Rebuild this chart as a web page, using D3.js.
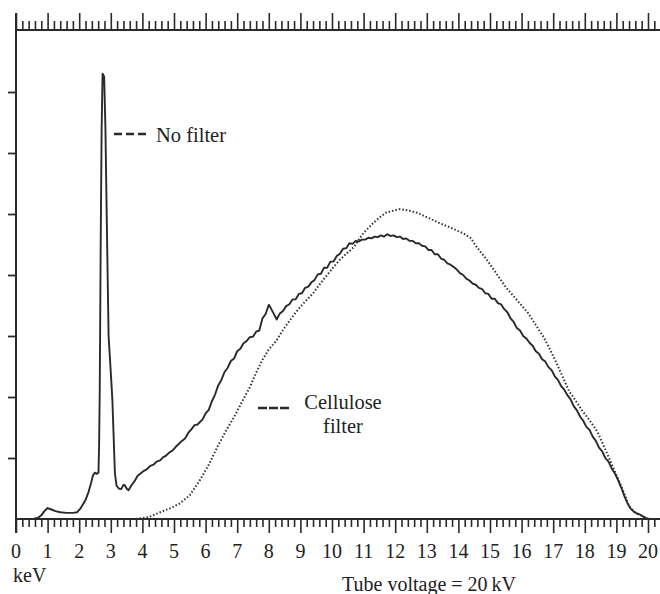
<!DOCTYPE html>
<html>
<head>
<meta charset="utf-8">
<script src="https://cdn.jsdelivr.net/npm/d3@7"></script>
<style>
  html, body { margin: 0; padding: 0; background: #fff; }
  svg { display: block; }
  text { font-family: "Liberation Serif", "DejaVu Serif", serif; fill: #222; }
</style>
</head>
<body>
<svg id="chart" width="660" height="594"></svg>
<script>
// ---- data ----
const axisTickLabels = ["0","1","2","3","4","5","6","7","8","9","10","11","12","13","14","15","16","17","18","19","20"];
const yTickValues = [1, 2, 3, 4, 5, 6, 7];

// No filter spectrum: [energy keV, relative intensity]
const noFilterSpectrum = [[0,0],[0.55,0],[0.7,0.02],[0.8,0.06],[0.9,0.13],[1.0,0.18],[1.1,0.16],[1.25,0.13],[1.4,0.11],[1.6,0.10],[1.8,0.10],[1.93,0.11],[2.05,0.18],[2.2,0.31],[2.3,0.45],[2.38,0.60],[2.44,0.72],[2.5,0.76],[2.56,0.74],[2.61,0.76],[2.63,1.2],[2.65,2.1],[2.68,4.5],[2.71,6.4],[2.74,7.3],[2.79,7.25],[2.83,6.4],[2.87,5.0],[2.93,3.0],[3.0,2.4],[3.05,1.95],[3.1,1.2],[3.13,0.75],[3.18,0.55],[3.25,0.50],[3.33,0.49],[3.4,0.56],[3.45,0.55],[3.5,0.50],[3.56,0.47],[3.65,0.55],[3.75,0.62],[3.85,0.71],[3.95,0.75],[4.05,0.79],[4.15,0.82],[4.25,0.87],[4.35,0.89],[4.45,0.94],[4.56,0.96],[4.65,1.01],[4.75,1.04],[4.85,1.09],[4.95,1.12],[5.05,1.18],[5.15,1.23],[5.25,1.28],[5.35,1.32],[5.45,1.41],[5.55,1.47],[5.65,1.54],[5.75,1.55],[5.82,1.59],[5.9,1.63],[6.0,1.73],[6.1,1.79],[6.2,1.93],[6.3,2.04],[6.4,2.19],[6.5,2.28],[6.6,2.41],[6.7,2.48],[6.8,2.59],[6.9,2.63],[7.0,2.75],[7.1,2.79],[7.2,2.88],[7.3,2.92],[7.4,2.98],[7.5,2.99],[7.6,3.07],[7.7,3.09],[7.8,3.29],[7.9,3.36],[8.0,3.51],[8.05,3.47],[8.15,3.37],[8.25,3.27],[8.35,3.37],[8.45,3.41],[8.55,3.49],[8.65,3.52],[8.75,3.60],[8.85,3.60],[8.95,3.69],[9.05,3.70],[9.15,3.79],[9.25,3.81],[9.35,3.88],[9.45,3.92],[9.55,4.01],[9.65,4.02],[9.75,4.12],[9.85,4.12],[9.95,4.22],[10.05,4.22],[10.15,4.31],[10.25,4.35],[10.35,4.43],[10.45,4.44],[10.55,4.52],[10.65,4.51],[10.75,4.56],[10.85,4.55],[10.95,4.58],[11.05,4.58],[11.15,4.61],[11.25,4.60],[11.35,4.63],[11.45,4.62],[11.55,4.65],[11.65,4.63],[11.75,4.67],[11.85,4.64],[11.95,4.65],[12.05,4.62],[12.15,4.63],[12.25,4.59],[12.35,4.60],[12.45,4.56],[12.55,4.56],[12.65,4.52],[12.75,4.52],[12.85,4.48],[12.95,4.47],[13.05,4.41],[13.15,4.41],[13.25,4.34],[13.35,4.34],[13.45,4.27],[13.55,4.25],[13.65,4.19],[13.75,4.17],[13.85,4.13],[13.95,4.09],[14.05,4.03],[14.15,4.00],[14.25,3.94],[14.35,3.91],[14.45,3.86],[14.55,3.84],[14.65,3.79],[14.75,3.77],[14.85,3.70],[14.95,3.69],[15.05,3.61],[15.15,3.61],[15.25,3.54],[15.35,3.52],[15.45,3.44],[15.55,3.39],[15.65,3.29],[15.75,3.23],[15.85,3.13],[15.95,3.09],[16.05,3.00],[16.15,2.96],[16.25,2.89],[16.35,2.84],[16.45,2.75],[16.55,2.71],[16.65,2.62],[16.75,2.58],[16.85,2.49],[16.95,2.44],[17.05,2.34],[17.15,2.28],[17.25,2.18],[17.35,2.12],[17.45,2.03],[17.55,1.96],[17.65,1.85],[17.75,1.78],[17.85,1.68],[17.95,1.61],[18.05,1.51],[18.15,1.46],[18.25,1.35],[18.35,1.28],[18.45,1.17],[18.55,1.11],[18.65,1.00],[18.75,0.94],[18.85,0.83],[18.95,0.75],[19.05,0.64],[19.15,0.52],[19.25,0.38],[19.35,0.26],[19.45,0.17],[19.55,0.12],[19.65,0.09],[19.75,0.07],[19.85,0.04],[19.95,0.01],[20.05,0],[20.38,0]];

// Cellulose filter spectrum: [energy keV, relative intensity]
const celluloseSpectrum = [[3.8,0],[4.2,0.03],[4.56,0.11],[4.9,0.18],[5.2,0.26],[5.5,0.39],[5.8,0.62],[6.1,0.89],[6.4,1.21],[6.65,1.45],[6.9,1.67],[7.15,1.92],[7.4,2.16],[7.6,2.40],[7.8,2.61],[8.0,2.78],[8.25,2.93],[8.4,3.06],[8.6,3.21],[8.8,3.35],[9.0,3.48],[9.2,3.59],[9.4,3.70],[9.6,3.84],[9.8,3.97],[10.0,4.10],[10.25,4.25],[10.5,4.37],[10.7,4.46],[10.85,4.58],[11.0,4.69],[11.15,4.77],[11.3,4.85],[11.5,4.94],[11.7,5.02],[11.9,5.05],[12.15,5.08],[12.4,5.06],[12.7,5.02],[12.95,4.96],[13.2,4.90],[13.45,4.84],[13.7,4.79],[13.95,4.73],[14.2,4.67],[14.4,4.60],[14.55,4.48],[14.7,4.38],[14.9,4.25],[15.1,4.10],[15.3,3.95],[15.5,3.80],[15.7,3.68],[15.9,3.56],[16.2,3.38],[16.45,3.18],[16.7,2.98],[16.9,2.78],[17.1,2.56],[17.3,2.33],[17.5,2.10],[17.7,1.95],[17.9,1.79],[18.15,1.62],[18.4,1.43],[18.65,1.14],[18.9,0.84],[19.05,0.66],[19.2,0.48],[19.4,0.21],[19.6,0.10],[19.75,0.07],[20.0,0]];

const seriesLabels = ["No filter", "Cellulose", "filter"];
const xUnitLabel = "keV";
const caption = "Tube voltage = 20\u2009kV";

// ---- drawing ----
const svg = d3.select("#chart");
const x = d3.scaleLinear().domain([0, 20.38]).range([16, 660]);
const y = d3.scaleLinear().domain([0, 8]).range([519, 31]);
const ink = "#2a2a2a";

const minorTicks = d3.range(0, 102).map(i => +(i * 0.2).toFixed(1)).filter(v => v <= 20.3);
const isMajor = v => Math.abs(v - Math.round(v)) < 1e-6;

// bottom axis
const gb = svg.append("g").attr("transform", "translate(0,519)")
  .call(d3.axisBottom(x).tickValues(minorTicks).tickSizeOuter(0).tickFormat(""));
gb.select(".domain").remove();
gb.selectAll(".tick line").attr("y2", d => isMajor(d) ? 14 : 8).attr("stroke", ink).attr("stroke-width", 1.6);
gb.append("line").attr("x1", x(0)).attr("x2", 660).attr("y1", 0).attr("y2", 0).attr("stroke", ink).attr("stroke-width", 2);

// bottom tick labels
svg.append("g").selectAll("text").data(axisTickLabels).join("text")
  .attr("x", d => x(+d)).attr("y", 558).attr("text-anchor", "middle")
  .attr("font-size", 20).text(d => d);

// top axis
const gt = svg.append("g").attr("transform", "translate(0,30)")
  .call(d3.axisTop(x).tickValues(minorTicks).tickSizeOuter(0).tickFormat(""));
gt.select(".domain").remove();
gt.selectAll(".tick line").attr("y2", d => isMajor(d) ? -17 : -9).attr("stroke", ink).attr("stroke-width", 1.6);
gt.append("line").attr("x1", x(0)).attr("x2", 660).attr("y1", 0).attr("y2", 0).attr("stroke", ink).attr("stroke-width", 2);

// left axis
const gl = svg.append("g").attr("transform", "translate(16,0)")
  .call(d3.axisLeft(y).tickValues(yTickValues).tickSize(8).tickSizeOuter(0).tickFormat(""));
gl.select(".domain").remove();
gl.selectAll(".tick line").attr("stroke", ink).attr("stroke-width", 1.8);
gl.append("line").attr("x1", 0).attr("x2", 0).attr("y1", 13).attr("y2", 533).attr("stroke", ink).attr("stroke-width", 2);

// curves
const line = d3.line().x(d => x(d[0])).y(d => y(d[1]));

svg.append("path").datum(celluloseSpectrum).attr("d", line)
  .attr("fill", "none").attr("stroke", "#333").attr("stroke-width", 2)
  .attr("stroke-dasharray", "1.5 2");

svg.append("path").datum(noFilterSpectrum).attr("d", line)
  .attr("fill", "none").attr("stroke", ink).attr("stroke-width", 1.9)
  .attr("stroke-linejoin", "round");

// annotations
svg.append("line").attr("x1", 114).attr("x2", 146).attr("y1", 134).attr("y2", 134)
  .attr("stroke", ink).attr("stroke-width", 2.5).attr("stroke-dasharray", "8 4");
svg.append("text").attr("x", 156).attr("y", 142).attr("font-size", 20.5).text(seriesLabels[0]);

svg.append("line").attr("x1", 258).attr("x2", 289).attr("y1", 408).attr("y2", 408)
  .attr("stroke", ink).attr("stroke-width", 2.5).attr("stroke-dasharray", "9 2");
svg.append("text").attr("x", 343).attr("y", 409).attr("text-anchor", "middle").attr("font-size", 20.5).text(seriesLabels[1]);
svg.append("text").attr("x", 343).attr("y", 433).attr("text-anchor", "middle").attr("font-size", 20.5).text(seriesLabels[2]);

svg.append("text").attr("x", 13).attr("y", 582).attr("font-size", 20).text(xUnitLabel);
svg.append("text").attr("x", 342).attr("y", 591).attr("font-size", 20).text(caption);
</script>
</body>
</html>
